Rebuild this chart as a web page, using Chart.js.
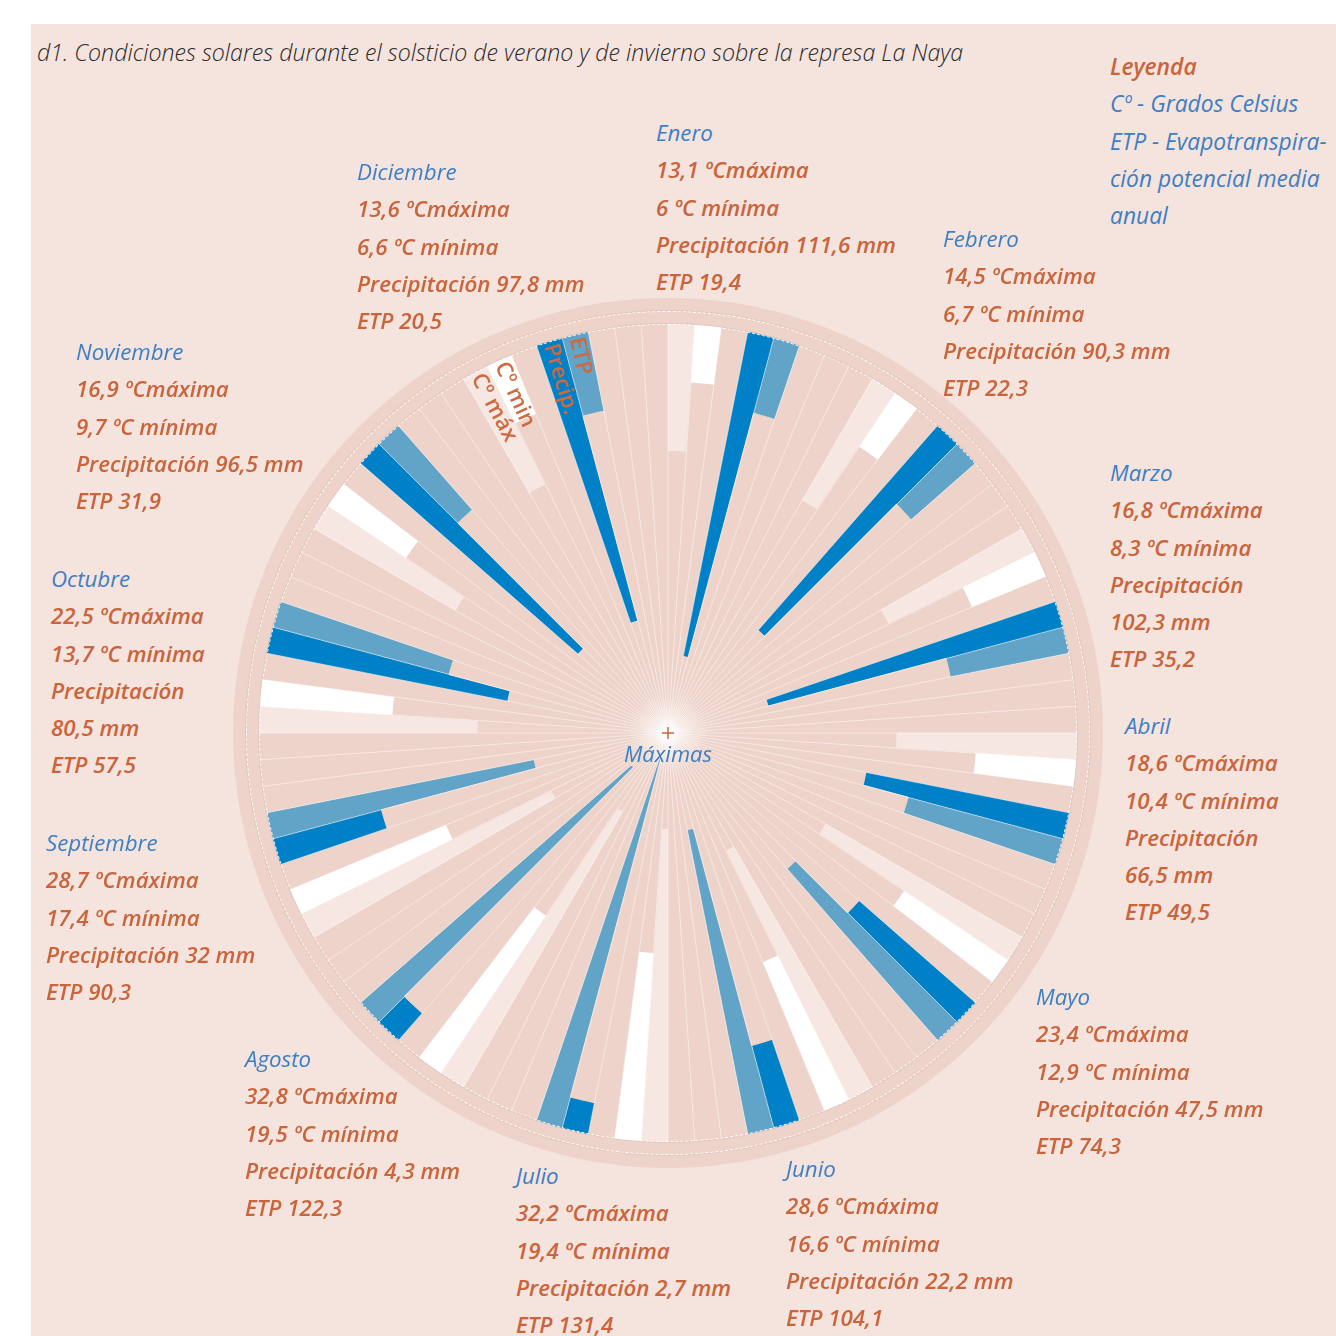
<!DOCTYPE html>
<html lang="es">
<head>
<meta charset="utf-8">
<title>Condiciones solares - represa La Naya</title>
<script src="https://cdn.jsdelivr.net/npm/chart.js@4.4.1/dist/chart.umd.min.js"></script>
<style>
html,body{margin:0;padding:0;background:#fff;}
body{width:1336px;height:1336px;position:relative;overflow:hidden;font-family:"Open Sans","Noto Sans",sans-serif;}
#panel{position:absolute;left:31px;top:24px;width:1305px;height:1312px;background:#f5e3dd;}
#titulo{position:absolute;left:37px;top:36px;font-size:23.2px;font-style:italic;font-weight:300;color:#2a2a2a;white-space:nowrap;}
.bloque{position:absolute;font-style:italic;font-size:22.3px;line-height:37.3px;white-space:nowrap;}
.mes{color:#3d7fc4;font-weight:400;}
.dato{color:#c9643b;font-weight:600;}
#aro{position:absolute;left:233px;top:298px;width:870px;height:870px;border-radius:50%;background:#edd3c9;}
.circulo{position:absolute;border-radius:50%;border:1px dashed rgba(255,255,255,0.95);box-sizing:border-box;box-shadow:0 0 0 1px rgba(190,170,164,0.25);pointer-events:none;}
#grafico{position:absolute;left:259px;top:324px;}
#maximas{position:absolute;left:568px;width:200px;text-align:center;top:738px;color:#3d7fc4;font-style:italic;font-size:22px;line-height:30px;}
</style>
</head>
<body>
<div id="panel"></div>
<div id="titulo">d1. Condiciones solares durante el solsticio de verano y de invierno sobre la represa La Naya</div>
<div id="aro"></div>
<canvas id="grafico" width="818" height="818"></canvas>
<div class="circulo" style="left:259px;top:324px;width:818px;height:818px;"></div>
<div class="circulo" style="left:246px;top:311px;width:844px;height:844px;"></div>
<div id="maximas">Máximas</div>
<div class="bloque" style="left:1110px;top:48px;font-size:22.8px;">
<div class="dato">Leyenda</div>
<div class="mes">Cº - Grados Celsius</div>
<div class="mes">ETP - Evapotranspira-</div>
<div class="mes">ción potencial media</div>
<div class="mes">anual</div>
</div>
<div id="textos"></div>
<script>

/* ============================= */
/* DATOS */
/* ============================= */

const meses = ["Enero","Febrero","Marzo","Abril","Mayo","Junio","Julio","Agosto","Septiembre","Octubre","Noviembre","Diciembre"];

const maximas = [13.1, 14.5, 16.8, 18.6, 23.4, 28.6, 32.2, 32.8, 28.7, 22.5, 16.9, 13.6];
const minimas = [6, 6.7, 8.3, 10.4, 12.9, 16.6, 19.4, 19.5, 17.4, 13.7, 9.7, 6.6];
const precipitacion = [111.6, 90.3, 102.3, 66.5, 47.5, 22.2, 2.7, 4.3, 32, 80.5, 96.5, 97.8];
const etp = [19.4, 22.3, 35.2, 49.5, 74.3, 104.1, 131.4, 122.3, 90.3, 57.5, 31.9, 20.5];

// meses donde "Precipitación" va en una linea y el valor en otra
const partirPrecip = ["Marzo","Abril","Octubre"];

// rotulos sobre las barras de diciembre
const rotulosBarras = ["Cº máx","Cº min",null,"Precip.","ETP"];


/* ============================= */
/* ESTILO */
/* ============================= */

const fondo = "#edd3c9";

const coloresSerie = {
max:"#f6e7e2",
min:"#ffffff",
precip:"#0080c6",
etp:"#62a3c8"
};

// 8 ranuras por mes (30 grados)
const ranuras = ["max","min",null,"precip","etp",null,null,null];

// posicion de cada bloque de texto (izquierda, arriba)
const posTextos = [
[656,114],[943,220],[1110,454],[1125,707],[1036,978],[786,1150],
[516,1157],[245,1040],[46,824],[51,560],[76,333],[357,153]
];


/* ============================= */
/* TEXTOS DE CADA MES */
/* ============================= */

function coma(v){
return String(v).replace(".", ",");
}

let html = "";

meses.forEach((mes,i)=>{

let lineas = [];
lineas.push('<div class="mes">'+mes+'</div>');
lineas.push('<div class="dato">'+coma(maximas[i])+' ºCmáxima</div>');
lineas.push('<div class="dato">'+coma(minimas[i])+' ºC mínima</div>');

if(partirPrecip.includes(mes)){
lineas.push('<div class="dato">Precipitación</div>');
lineas.push('<div class="dato">'+coma(precipitacion[i])+' mm</div>');
}else{
lineas.push('<div class="dato">Precipitación '+coma(precipitacion[i])+' mm</div>');
}

lineas.push('<div class="dato">ETP '+coma(etp[i])+'</div>');

html += '<div class="bloque" style="left:'+posTextos[i][0]+'px;top:'+posTextos[i][1]+'px;">'+lineas.join("")+'</div>';

});

document.getElementById("textos").innerHTML = html;


/* ============================= */
/* ARMAR DATASETS */
/* ============================= */

const escalaT = {min:0, max:42};
const escalaA = {min:-9, max:140};

const etiquetas = [];
const barras = [];
const coloresBarras = [];
const mascaraT = [];
const mascaraA = [];

meses.forEach((mes,i)=>{

ranuras.forEach(serie=>{

etiquetas.push(serie ? mes+" "+serie : mes);
barras.push(0);
coloresBarras.push(serie ? coloresSerie[serie] : fondo);

// la barra cuelga del borde: se tapa desde el centro hasta el valor
mascaraT.push(serie==="max" ? maximas[i] : serie==="min" ? minimas[i] : escalaT.max);
mascaraA.push(serie==="precip" ? precipitacion[i] : serie==="etp" ? etp[i] : escalaA.max);

});

});


/* ============================= */
/* DECORACION */
/* ============================= */

const decoracion = {

id:"decoracion",

afterDatasetsDraw(chart){

const r = chart.scales.rT;
const ctx = chart.ctx;

const g = ctx.createRadialGradient(r.xCenter,r.yCenter,0,r.xCenter,r.yCenter,40);
g.addColorStop(0,"rgba(255,255,255,0.95)");
g.addColorStop(0.35,"rgba(255,255,255,0.4)");
g.addColorStop(1,"rgba(255,255,255,0)");

ctx.save();
ctx.fillStyle = g;
ctx.beginPath();
ctx.arc(r.xCenter,r.yCenter,40,0,Math.PI*2);
ctx.fill();
ctx.restore();

},

afterDraw(chart){

const r = chart.scales.rT;
const ctx = chart.ctx;
const paso = Math.PI*2/etiquetas.length;

ctx.save();

/* cruz central */
ctx.strokeStyle = "#c9643b";
ctx.lineWidth = 1.5;
ctx.beginPath();
ctx.moveTo(r.xCenter-6,r.yCenter);
ctx.lineTo(r.xCenter+6,r.yCenter);
ctx.moveTo(r.xCenter,r.yCenter-6);
ctx.lineTo(r.xCenter,r.yCenter+6);
ctx.stroke();

/* rotulos de diciembre */
ctx.fillStyle = "#cf6a40";
ctx.font = "600 22px 'Open Sans'";
ctx.textAlign = "left";
ctx.textBaseline = "middle";

const base = 11*ranuras.length;

rotulosBarras.forEach((txt,s)=>{

if(!txt) return;

const a = r.getIndexAngle(base+s) + paso/2 - Math.PI/2;
const d = r.drawingArea - 3;

ctx.save();
ctx.translate(r.xCenter+Math.cos(a)*d, r.yCenter+Math.sin(a)*d);
ctx.rotate(a+Math.PI);
ctx.fillText(txt,0,0);
ctx.restore();

});

ctx.restore();

}

};


/* ============================= */
/* GRAFICO */
/* ============================= */

new Chart(document.getElementById("grafico"), {

type:"polarArea",

data:{
labels:etiquetas,
datasets:[
{label:"mascara temperatura", data:mascaraT, rAxisID:"rT", backgroundColor:fondo, borderColor:fondo, borderWidth:1.2},
{label:"mascara agua", data:mascaraA, rAxisID:"rW", backgroundColor:fondo, borderColor:fondo, borderWidth:1.2},
{label:"barras", data:barras, rAxisID:"rT", backgroundColor:coloresBarras, borderWidth:0}
]
},

options:{

responsive:false,
animation:false,
events:[],

layout:{padding:0},

plugins:{
legend:{display:false},
tooltip:{enabled:false}
},

scales:{

rT:{
type:"radialLinear",
axis:"r",
reverse:true,
min:escalaT.min,
max:escalaT.max,
startAngle:0,
ticks:{display:false, reverse:true, z:1},
grid:{display:false, z:1},
pointLabels:{display:false},
angleLines:{
display:true,
color:"rgba(255,255,255,0.55)",
lineWidth:0.9
}
},

rW:{
type:"radialLinear",
axis:"r",
reverse:true,
min:escalaA.min,
max:escalaA.max,
startAngle:0,
display:false
}

}

},

plugins:[decoracion]

});

</script>
</body>
</html>
